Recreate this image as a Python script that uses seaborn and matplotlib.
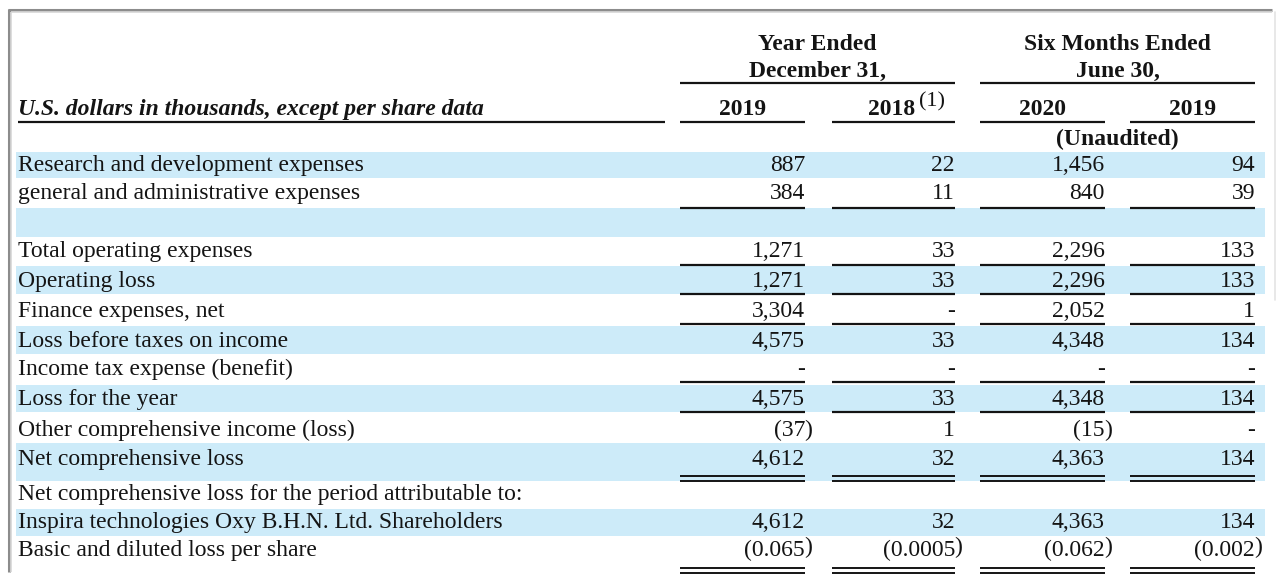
import numpy as np
import pandas as pd
import matplotlib
matplotlib.use("Agg")
import matplotlib.pyplot as plt
import seaborn as sns

# ---------------- data ----------------
row_labels = [
    "Research and development expenses",
    "general and administrative expenses",
    "",
    "Total operating expenses",
    "Operating loss",
    "Finance expenses, net",
    "Loss before taxes on income",
    "Income tax expense (benefit)",
    "Loss for the year",
    "Other comprehensive income (loss)",
    "Net comprehensive loss",
    "Net comprehensive loss for the period attributable to:",
    "Inspira technologies Oxy B.H.N. Ltd. Shareholders",
    "Basic and diluted loss per share",
]
# 0 is printed as "-", None means empty cell, negatives are printed in parentheses
year_2019 = [887, 384, None, 1271, 1271, 3304, 4575, 0, 4575, -37, 4612, None, 4612, -0.065]
year_2018 = [22, 11, None, 33, 33, 0, 33, 0, 33, 1, 32, None, 32, -0.0005]
six_2020 = [1456, 840, None, 2296, 2296, 2052, 4348, 0, 4348, -15, 4363, None, 4363, -0.062]
six_2019 = [94, 39, None, 133, 133, 1, 134, 0, 134, 0, 134, None, 134, -0.002]

group_headers = [("Year Ended", "December 31,"), ("Six Months Ended", "June 30,")]
col_headers = ["2019", "2018", "2020", "2019"]
title_label = "U.S. dollars in thousands, except per share data"
footnote_mark = "(1)"
unaudited = "(Unaudited)"

df = pd.DataFrame({"label": row_labels, "y2019": year_2019, "y2018": year_2018,
                   "s2020": six_2020, "s2019": six_2019})
value_cols = ["y2019", "y2018", "s2020", "s2019"]

# ---------------- layout / style ----------------
W, H = 1280, 579
row_y = [164, 192, 222, 250, 280, 310, 340, 368, 398, 429, 458, 493, 521, 549]  # row centres (px)
band_rows = {0: (152, 178), 2: (208, 237), 4: (266, 294), 6: (326, 354),
             8: (385, 412), 10: (443, 481), 12: (509, 536)}
single_rule_after = {1: 208, 3: 265, 4: 294, 5: 324, 7: 382, 8: 412}
double_rule_after = {10: 476, 13: 568}
col_left = [680, 832, 980, 1130]
col_right = [805, 955, 1105, 1255]
band_color = "#CDEBF9"
ink = "#141414"
FS = 17

sns.set_theme(style="white")
plt.rcParams["font.family"] = ["Liberation Serif", "DejaVu Serif"]

fig = plt.figure(figsize=(W / 100, H / 100), dpi=100)
ax = fig.add_axes([0, 0, 1, 1])
ax.set_xlim(0, W)
ax.set_ylim(H, 0)
ax.axis("off")


def fmt(v):
    if v is None:
        return None
    if v == 0:
        return "-"
    a = abs(v)
    s = f"{int(a):,}" if float(a).is_integer() else repr(a)
    return ("(" + s) if v < 0 else s


# bands
for r, (y0, y1) in band_rows.items():
    ax.fill_between([16, 1265], y0, y1, color=band_color, lw=0, zorder=0)

# frame
ax.plot([8, 1272], [9.5, 9.5], color="#8c8c8c", lw=2.2, solid_capstyle="butt")
ax.plot([8, 1272], [12, 12], color="#d8d8d8", lw=1.2, solid_capstyle="butt")
ax.plot([8.5, 8.5], [9, 572], color="#8c8c8c", lw=2.2, solid_capstyle="butt")
ax.plot([11, 11], [12, 572], color="#d8d8d8", lw=1.2, solid_capstyle="butt")
ax.plot([1275, 1275], [12, 300], color="#e4e4e4", lw=1.2)

# group headers
for (l1, l2), i0, i1 in zip(group_headers, [0, 2], [1, 3]):
    xc = (col_left[i0] + col_right[i1]) / 2
    ax.text(xc, 50, l1, ha="center", va="baseline", fontsize=FS, fontweight="bold", color=ink)
    ax.text(xc, 77, l2, ha="center", va="baseline", fontsize=FS, fontweight="bold", color=ink)
    ax.plot([col_left[i0], col_right[i1]], [83, 83], color=ink, lw=1.6, solid_capstyle="butt")

# title & column headers
ax.text(18, 115, title_label, ha="left", va="baseline", fontsize=FS,
        fontweight="bold", fontstyle="italic", color=ink)
ax.plot([18, 665], [122, 122], color=ink, lw=1.6, solid_capstyle="butt")
for i, h in enumerate(col_headers):
    xc = (col_left[i] + col_right[i]) / 2
    if i == 1:
        ax.text(xc + 22, 115, h, ha="right", va="baseline", fontsize=FS, fontweight="bold", color=ink)
        ax.text(xc + 26, 106, footnote_mark, ha="left", va="baseline", fontsize=FS - 1,
                fontweight="normal", color=ink)
    else:
        ax.text(xc, 115, h, ha="center", va="baseline", fontsize=FS, fontweight="bold", color=ink)
    ax.plot([col_left[i], col_right[i]], [122, 122], color=ink, lw=1.6, solid_capstyle="butt")
ax.text((col_left[2] + col_right[3]) / 2, 145, unaudited, ha="center", va="baseline",
        fontsize=FS, fontweight="bold", color=ink)

# body
for r, row in df.iterrows():
    yb = row_y[r] + 7
    if row["label"]:
        ax.text(18, yb, row["label"], ha="left", va="baseline", fontsize=FS, color=ink)
    for c, col in enumerate(value_cols):
        v = row[col]
        if v is None or (isinstance(v, float) and np.isnan(v)):
            continue
        s = fmt(v)
        ax.text(col_right[c], yb, s, ha="right", va="baseline", fontsize=FS, color=ink)
        if s.startswith("("):
            dy = -3 if r == 13 else 0
            ax.text(col_right[c] - 1, yb + dy, ")", ha="left", va="baseline", fontsize=FS, color=ink)

for r, yl in single_rule_after.items():
    for c in range(4):
        ax.plot([col_left[c], col_right[c]], [yl, yl], color=ink, lw=1.6, solid_capstyle="butt")
for r, yl in double_rule_after.items():
    for c in range(4):
        for yy in (yl, yl + 5):
            ax.plot([col_left[c], col_right[c]], [yy, yy], color=ink, lw=1.4, solid_capstyle="butt")

fig.savefig("out.png", dpi=100, facecolor="white")
